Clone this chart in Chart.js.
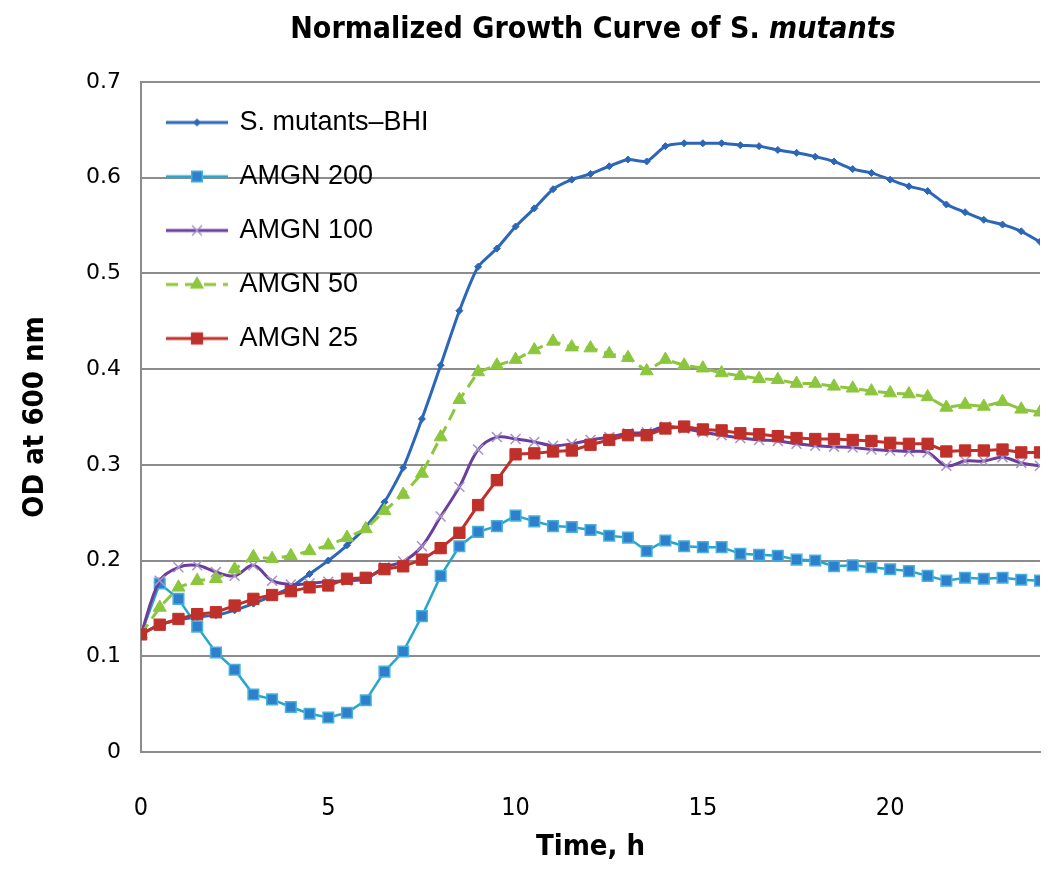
<!DOCTYPE html>
<html>
<head>
<meta charset="utf-8">
<script src="https://cdn.jsdelivr.net/npm/chart.js@4.4.0/dist/chart.umd.min.js"></script>
<style>
  html, body { margin: 0; padding: 0; background: #fff; }
  #wrap { position: relative; width: 1050px; height: 878px; }
  #title {
    position: absolute; left: 143px; top: 11px; width: 900px;
    text-align: center; font: bold 30px "DejaVu Sans Condensed", "Liberation Sans Narrow", sans-serif;
    line-height: 33px; color: #000;
  }
  #title i { font-style: italic; }
</style>
</head>
<body>
<div id="wrap">
  <div id="title">Normalized Growth Curve of S. <i>mutants</i></div>
  <canvas id="growth-chart" width="1050" height="878"></canvas>
</div>
<script>
// sampling times (h)
const times = [0, 0.5, 1, 1.5, 2, 2.5, 3, 3.5, 4, 4.5, 5, 5.5, 6, 6.5, 7, 7.5, 8, 8.5, 9, 9.5,
    10, 10.5, 11, 11.5, 12, 12.5, 13, 13.5, 14, 14.5, 15, 15.5, 16, 16.5, 17, 17.5, 18, 18.5, 19, 19.5,
    20, 20.5, 21, 21.5, 22, 22.5, 23, 23.5, 24];

const seriesLabels = ['S. mutants\u2013BHI', 'AMGN 200', 'AMGN 100', 'AMGN 50', 'AMGN 25'];

const bhi = [0.123, 0.133, 0.138, 0.141, 0.143, 0.148, 0.155, 0.163, 0.172, 0.186,
    0.200, 0.216, 0.235, 0.261, 0.297, 0.348, 0.404, 0.461, 0.507, 0.526,
    0.549, 0.568, 0.588, 0.598, 0.604, 0.612, 0.619, 0.617, 0.633, 0.636,
    0.636, 0.636, 0.634, 0.633, 0.629, 0.626, 0.622, 0.617, 0.609, 0.605,
    0.598, 0.591, 0.586, 0.572, 0.564, 0.556, 0.551, 0.544, 0.533];

const amgn200 = [0.123, 0.176, 0.160, 0.131, 0.104, 0.086, 0.060, 0.055, 0.047, 0.040,
    0.036, 0.041, 0.054, 0.084, 0.105, 0.142, 0.184, 0.215, 0.230, 0.236,
    0.247, 0.241, 0.236, 0.235, 0.232, 0.226, 0.224, 0.210, 0.221, 0.215,
    0.214, 0.214, 0.207, 0.206, 0.205, 0.201, 0.200, 0.194, 0.195, 0.193,
    0.191, 0.189, 0.184, 0.179, 0.182, 0.181, 0.182, 0.180, 0.179];

const amgn100 = [0.123, 0.179, 0.193, 0.195, 0.188, 0.184, 0.195, 0.179, 0.175, 0.176,
    0.178, 0.179, 0.181, 0.193, 0.199, 0.215, 0.246, 0.277, 0.316, 0.329,
    0.327, 0.324, 0.320, 0.322, 0.326, 0.329, 0.333, 0.334, 0.340, 0.338,
    0.334, 0.331, 0.328, 0.326, 0.325, 0.322, 0.320, 0.319, 0.318, 0.316,
    0.315, 0.314, 0.313, 0.299, 0.304, 0.304, 0.308, 0.302, 0.299];

const amgn50 = [0.123, 0.151, 0.172, 0.179, 0.181, 0.191, 0.204, 0.202, 0.205, 0.210,
    0.216, 0.224, 0.233, 0.252, 0.269, 0.291, 0.329, 0.368, 0.397, 0.404,
    0.410, 0.420, 0.429, 0.423, 0.422, 0.416, 0.412, 0.398, 0.410, 0.404,
    0.401, 0.396, 0.393, 0.390, 0.389, 0.385, 0.385, 0.382, 0.380, 0.377,
    0.375, 0.374, 0.371, 0.360, 0.363, 0.361, 0.366, 0.358, 0.355];

const amgn25 = [0.123, 0.133, 0.139, 0.144, 0.146, 0.153, 0.160, 0.164, 0.168, 0.172,
    0.174, 0.181, 0.182, 0.191, 0.194, 0.201, 0.213, 0.229, 0.258, 0.284,
    0.311, 0.312, 0.314, 0.315, 0.321, 0.326, 0.331, 0.331, 0.338, 0.340,
    0.337, 0.336, 0.333, 0.332, 0.330, 0.328, 0.327, 0.327, 0.326, 0.325,
    0.323, 0.322, 0.322, 0.314, 0.315, 0.315, 0.316, 0.313, 0.313];

const xTicks = [0, 5, 10, 15, 20];
const yTicks = [0, 0.1, 0.2, 0.3, 0.4, 0.5, 0.6, 0.7];

const gridGray = '#8c8c8c';
const condensed = '"DejaVu Sans Condensed", "Liberation Sans Narrow", sans-serif';

function pairs(vals) {
    return vals.map((v, i) => ({ x: times[i], y: v }));
}

// little line + marker picture for legend entries
function legendSample(ds) {
    let c = document.createElement('canvas');
    c.width = 62;
    c.height = 22;
    let g = c.getContext('2d');
    g.strokeStyle = ds.borderColor;
    g.lineWidth = ds.borderWidth;
    g.setLineDash(ds.borderDash || []);
    g.beginPath();
    g.moveTo(0, 11);
    g.lineTo(62, 11);
    g.stroke();
    g.setLineDash([]);
    g.fillStyle = ds.pointBackgroundColor;
    g.strokeStyle = ds.pointBorderColor;
    g.lineWidth = ds.pointBorderWidth;
    Chart.helpers.drawPoint(g, {
        pointStyle: ds.pointStyle,
        radius: ds.pointRadius,
        rotation: 0,
        borderWidth: ds.pointBorderWidth
    }, 31, 11);
    return c;
}

// legend sits inside the plot, top left; chartArea legends get top reset to 0
const legendInPlot = {
    id: 'legendInPlot',
    afterLayout(chart) {
        let lg = chart.legend;
        if (lg) {
            lg.top = chart.chartArea.top;
            lg.bottom = chart.chartArea.bottom;
        }
    }
};

let datasets = [
    {
        label: seriesLabels[0],
        data: pairs(bhi),
        borderColor: '#2c66b8',
        borderWidth: 3,
        pointStyle: 'rectRot',
        pointRadius: 3.5,
        pointBackgroundColor: '#2c66b8',
        pointBorderColor: '#2c66b8',
        pointBorderWidth: 1,
        tension: 0.2,
        order: 5
    },
    {
        label: seriesLabels[1],
        data: pairs(amgn200),
        borderColor: '#27a6cc',
        borderWidth: 2.5,
        pointStyle: 'rect',
        pointRadius: 7.5,
        pointBackgroundColor: '#2f80cc',
        pointBorderColor: '#45b1dc',
        pointBorderWidth: 1.5,
        tension: 0,
        order: 4
    },
    {
        label: seriesLabels[2],
        data: pairs(amgn100),
        borderColor: '#6a3d9e',
        borderWidth: 3,
        pointStyle: 'crossRot',
        pointRadius: 7,
        pointBackgroundColor: '#a693c8',
        pointBorderColor: '#a693c8',
        pointBorderWidth: 1.5,
        tension: 0.35,
        order: 3
    },
    {
        label: seriesLabels[3],
        data: pairs(amgn50),
        borderColor: '#8cc63e',
        borderWidth: 3,
        borderDash: [12, 7],
        pointStyle: 'triangle',
        pointRadius: 7.5,
        pointBackgroundColor: '#8cc63e',
        pointBorderColor: '#8cc63e',
        pointBorderWidth: 1,
        tension: 0,
        order: 2
    },
    {
        label: seriesLabels[4],
        data: pairs(amgn25),
        borderColor: '#c0302b',
        borderWidth: 3,
        pointStyle: 'rect',
        pointRadius: 8,
        pointBackgroundColor: '#c0302b',
        pointBorderColor: '#c0302b',
        pointBorderWidth: 1,
        tension: 0,
        order: 1
    }
];

let ctx = document.getElementById('growth-chart');
let growthChart = new Chart(ctx, {
    type: 'line',
    data: { datasets: datasets },
    plugins: [legendInPlot],
    options: {
        responsive: false,
        animation: false,
        layout: {
            padding: { left: 0, right: 10, top: 82, bottom: 0 }
        },
        plugins: {
            title: { display: false },
            tooltip: { enabled: false },
            legend: {
                position: 'chartArea',
                align: 'start',
                labels: {
                    usePointStyle: true,
                    pointStyleWidth: 58,
                    padding: 27,
                    color: '#000',
                    font: { family: '"Liberation Sans", Arial, sans-serif', size: 27 },
                    generateLabels: function (chart) {
                        return chart.data.datasets.map((ds, i) => ({
                            text: ds.label,
                            datasetIndex: i,
                            pointStyle: legendSample(ds),
                            fillStyle: ds.borderColor,
                            strokeStyle: ds.borderColor,
                            lineWidth: 0,
                            hidden: false,
                            fontColor: '#000'
                        }));
                    }
                }
            }
        },
        scales: {
            x: {
                type: 'linear',
                min: 0,
                max: 24,
                afterFit: function (scale) { scale.height = 126; },
                afterBuildTicks: function (scale) {
                    scale.ticks = xTicks.map(v => ({ value: v }));
                },
                grid: { display: false, drawTicks: false },
                border: { display: true, color: gridGray, width: 2 },
                ticks: {
                    padding: 41,
                    color: '#000',
                    font: { family: condensed, size: 25 },
                    callback: v => String(v)
                },
                title: {
                    display: true,
                    text: 'Time, h',
                    color: '#000',
                    font: { family: condensed, size: 29, weight: 'bold' },
                    padding: { top: 0, bottom: 13 }
                }
            },
            y: {
                min: 0,
                max: 0.7,
                afterFit: function (scale) { scale.width = 141; },
                afterBuildTicks: function (scale) {
                    scale.ticks = yTicks.map(v => ({ value: v }));
                },
                grid: { color: gridGray, lineWidth: 2, drawTicks: false },
                border: { display: true, color: gridGray, width: 2 },
                ticks: {
                    padding: 20,
                    color: '#000',
                    font: { family: '"DejaVu Sans", Verdana, sans-serif', size: 22 },
                    callback: v => String(Math.round(v * 10) / 10)
                },
                title: {
                    display: true,
                    text: 'OD at 600 nm',
                    color: '#000',
                    font: { family: condensed, size: 29, weight: 'bold' },
                    padding: { top: 18, bottom: 0 }
                }
            }
        }
    }
});
</script>
</body>
</html>
